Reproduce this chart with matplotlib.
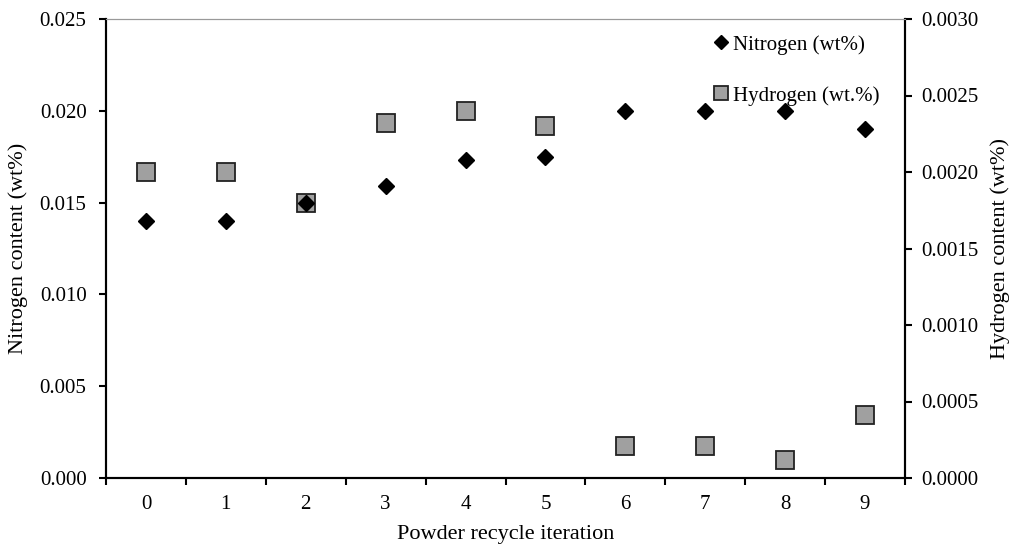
import matplotlib.pyplot as plt
from matplotlib.ticker import FormatStrFormatter

plt.rcParams['font.family'] = ['Liberation Serif', 'DejaVu Serif']
fz_tick = 15
fz_label = 16

iteration = [0, 1, 2, 3, 4, 5, 6, 7, 8, 9]
nitrogen = [0.0140, 0.0140, 0.0150, 0.0159, 0.0173, 0.0175, 0.0200, 0.0200, 0.0200, 0.0190]
hydrogen = [0.0020, 0.0020, 0.0018, 0.00232, 0.00240, 0.00230, 0.00021, 0.00021, 0.00012, 0.00041]

fig = plt.figure(figsize=(10.13, 5.49), dpi=100)
ax1 = fig.add_axes([106 / 1013, 1 - 478 / 549, 799 / 1013, 459 / 549])
ax2 = ax1.twinx()

ax2.plot(iteration, hydrogen, 's', color='#a0a0a0', markeredgecolor='#222222',
         markeredgewidth=1.3, markersize=12.5, linestyle='none', label='Hydrogen (wt.%)')
ax1.plot(iteration, nitrogen, 'D', color='k', markersize=8.5, linestyle='none',
         label='Nitrogen (wt%)')

ax1.set_zorder(ax2.get_zorder() + 1)
ax1.patch.set_visible(False)

ax1.set_xlim(-0.5, 9.5)
ax1.set_ylim(0, 0.025)
ax2.set_ylim(0, 0.003)

ax1.set_xticks(iteration)
ax1.set_xticks([i + 0.5 for i in range(-1, 10)], minor=True)
ax1.tick_params(axis='x', which='major', length=0, pad=12, labelsize=fz_tick)
ax1.tick_params(axis='x', which='minor', length=5, width=1.5, direction='out')
ax1.set_yticks([0, 0.005, 0.010, 0.015, 0.020, 0.025])
ax2.set_yticks([0, 0.0005, 0.0010, 0.0015, 0.0020, 0.0025, 0.0030])
ax1.yaxis.set_major_formatter(FormatStrFormatter('%.3f'))
ax2.yaxis.set_major_formatter(FormatStrFormatter('%.4f'))
ax1.tick_params(axis='y', length=5, width=1.5, labelsize=fz_tick, pad=9)
ax2.tick_params(axis='y', length=5, width=1.5, labelsize=fz_tick, pad=7)

for ax in (ax1, ax2):
    ax.spines['left'].set_linewidth(1.5)
    ax.spines['right'].set_linewidth(1.5)
    ax.spines['bottom'].set_linewidth(1.5)
    ax.spines['top'].set_color('#999999')
    ax.spines['top'].set_linewidth(0.8)

ax1.set_xlabel('Powder recycle iteration', fontsize=fz_label)
ax1.set_ylabel('Nitrogen content (wt%)', fontsize=fz_label)
ax2.set_ylabel('Hydrogen content (wt%)', fontsize=fz_label)
ax1.xaxis.set_label_coords(0.5, -0.103)
ax1.yaxis.set_label_coords(-0.097, 0.5)
ax2.yaxis.set_label_coords(1.107, 0.5)

h1, l1 = ax1.get_legend_handles_labels()
h2, l2 = ax2.get_legend_handles_labels()
ax1.legend(h1 + h2, l1 + l2, loc='upper left', bbox_to_anchor=(0.745, 0.997),
           frameon=False, fontsize=fz_tick, handlelength=0.5, handletextpad=0.3,
           labelspacing=1.5, markerscale=0.8, borderaxespad=0.3)

plt.savefig('out.png', dpi=100)
plt.close()
